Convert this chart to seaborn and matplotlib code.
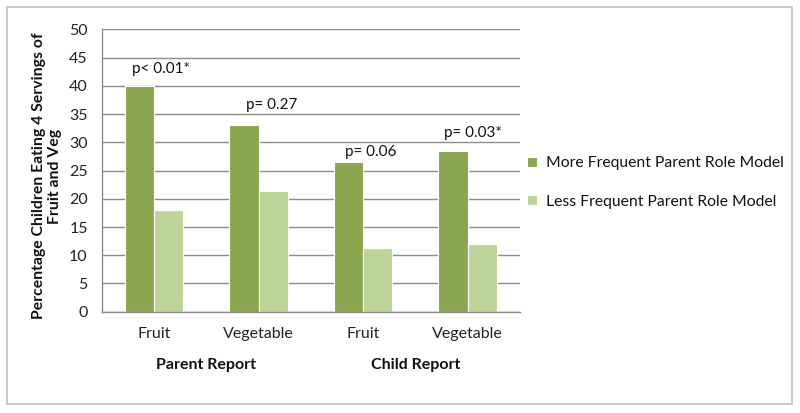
import numpy as np
import pandas as pd
import matplotlib
matplotlib.use("Agg")
import matplotlib.pyplot as plt
import matplotlib.transforms as mtransforms
from matplotlib.patches import Rectangle
import seaborn as sns

# Chart data
categories = ["Fruit", "Vegetable", "Fruit", "Vegetable"]
groups = ["Parent Report", "Child Report"]
more_frequent = [40.0, 33.1, 26.5, 28.4]
less_frequent = [18.1, 21.4, 11.2, 12.0]
series_names = ["More Frequent Parent Role Model", "Less Frequent Parent Role Model"]
p_labels = ["p< 0.01*", "p= 0.27", "p= 0.06", "p= 0.03*"]
p_label_y = [43.0, 36.6, 28.3, 31.7]
p_label_dx = [0.07, 0.13, 0.07, 0.05]

colors = ["#8aa64f", "#bcd49a"]

# Build long table for seaborn
keys = [f"{i}" for i in range(len(categories))]
df = pd.DataFrame({
    "key": keys * 2,
    "value": more_frequent + less_frequent,
    "series": [series_names[0]] * 4 + [series_names[1]] * 4,
})

sns.set_style("white")
plt.rcParams["font.family"] = ["Lato", "DejaVu Sans"]

fig = plt.figure(figsize=(8, 4.13), dpi=100)
ax = fig.add_axes([0.127, 0.2453, 0.523, 0.6833])

sns.barplot(data=df, x="key", y="value", hue="series", order=keys,
            hue_order=series_names, palette=colors, width=0.56, gap=0,
            edgecolor="white", linewidth=0.8, saturation=1, ax=ax)

ax.set_xlim(-0.5, 3.5)
ax.set_ylim(0, 50)
ax.set_yticks(np.arange(0, 51, 5))
ax.yaxis.grid(True, color="#8c8c8c", linewidth=1)
ax.set_axisbelow(True)
for s in ["top", "right"]:
    ax.spines[s].set_visible(False)
for s in ["left", "bottom"]:
    ax.spines[s].set_color("#8c8c8c")
    ax.spines[s].set_linewidth(1)

# Category ticks at boundaries, labels in the middle
ax.set_xticks(np.arange(-0.5, 3.6, 1))
ax.set_xticklabels([])
ax.set_xticks(np.arange(0, 4), minor=True)
ax.set_xticklabels(categories, minor=True)
ax.tick_params(axis="x", which="major", length=5, color="#8c8c8c", width=1, direction="out")
ax.tick_params(axis="x", which="minor", length=0, pad=11, labelsize=11.5, labelcolor="#222222")
ax.tick_params(axis="y", length=5, color="#8c8c8c", width=1, direction="out",
               labelsize=11.5, labelcolor="#222222", pad=5)
ax.set_xlabel("")
ax.set_ylabel("")

# Group labels under the categories
trans = mtransforms.blended_transform_factory(ax.transData, ax.transAxes)
for i, g in enumerate(groups):
    ax.text(2 * i + 0.5, -0.189, g, transform=trans, ha="center", va="center",
            fontsize=11.5, fontweight="bold", color="#111111")

# p value annotations
for i, lab in enumerate(p_labels):
    ax.text(i + p_label_dx[i], p_label_y[i], lab, ha="center", va="center",
            fontsize=11, color="#111111")

# Y label
fig.text(47 / 800, 1 - 176 / 413, "Percentage Children Eating 4 Servings of\nFruit and Veg",
         rotation=90, ha="center", va="center", multialignment="center",
         fontsize=11.3, fontweight="bold", color="#111111", linespacing=1.25)

# Legend
ax.legend(loc="center left", bbox_to_anchor=(0.659, 0.558), bbox_transform=fig.transFigure,
          frameon=False, handlelength=0.6, handleheight=0.6, handletextpad=0.6,
          labelspacing=1.55, borderpad=0, borderaxespad=0, fontsize=11.3)
for t in ax.get_legend().get_texts():
    t.set_color("#111111")

# Outer chart border
fig.patches.append(Rectangle((7 / 800, 1 - 404 / 413), (792 - 7) / 800, (404 - 7) / 413,
                             transform=fig.transFigure, fill=False, edgecolor="#bfbfbf",
                             linewidth=1.2))

fig.savefig("out.png", dpi=100, facecolor="white")
